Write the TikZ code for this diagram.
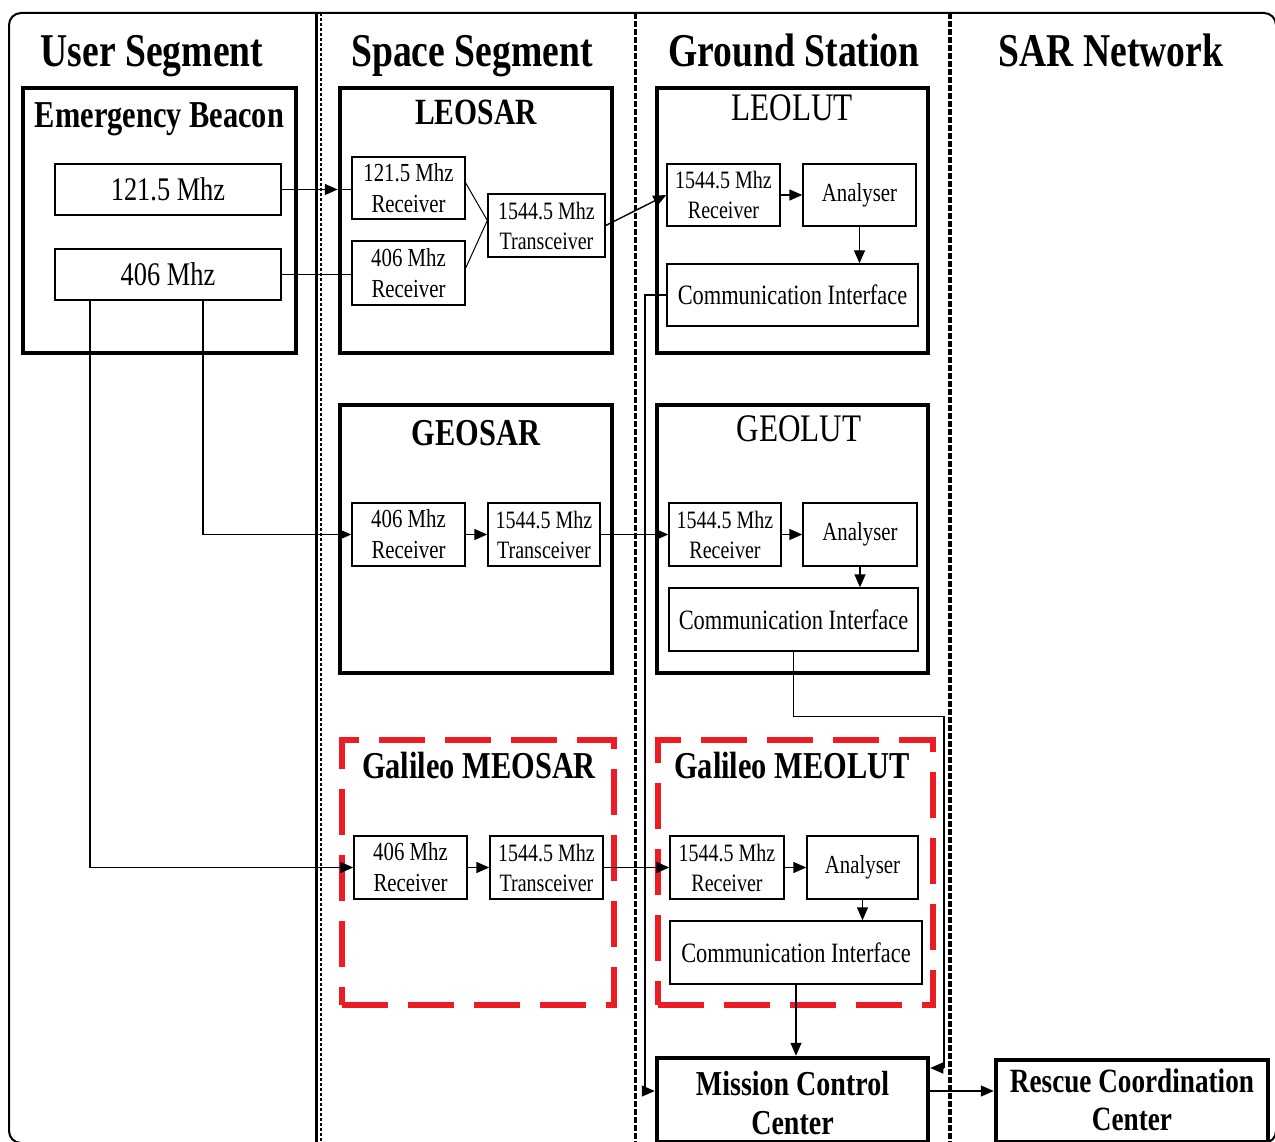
\documentclass[tikz,border=0pt]{standalone}
\usepackage{fontspec}
\newfontfamily\cf{Liberation Serif}[FakeStretch=0.8]
\usetikzlibrary{arrows.meta}
\definecolor{sarred}{RGB}{237,28,36}
\newcommand\myfs[2]{\fontsize{#1}{#2}\selectfont}
\begin{document}
\begin{tikzpicture}[x=1pt,y=-1pt,
  every node/.style={font=\cf},
  heavy/.style={draw,line width=4.5pt,inner sep=0pt},
  redbox/.style={draw=sarred,line width=6pt,dash pattern=on 46pt off 20pt,inner sep=0pt},
  small/.style={draw,line width=1.4pt,inner sep=0pt,align=center},
  conn/.style={line width=1.4pt},
  arr/.style={conn,-{Triangle[length=13pt,width=11pt]}},
  seg/.style={font=\cf\bfseries\myfs{47}{50},anchor=base},
  ttl/.style={font=\cf\myfs{39}{42},anchor=base},
  bttl/.style={font=\cf\bfseries\myfs{38}{42},anchor=base},
  rxt/.style={font=\cf\myfs{26}{31}},
  txt/.style={font=\cf\myfs{25}{30}},
  big/.style={font=\cf\bfseries\myfs{35}{40},align=center}
]
\useasboundingbox (0,0) rectangle (1275,1142);
% frame and dividers
\draw[line width=2pt,rounded corners=12pt] (9,13) rectangle (1276,1143);
\draw[line width=3pt] (316,13) -- (316,1142);
\draw[line width=1.5pt,dash pattern=on 3pt off 2pt] (321,13) -- (321,1142);
\draw[line width=3pt,dash pattern=on 6pt off 2pt] (635,13) -- (635,1142);
\draw[line width=4pt,dash pattern=on 6pt off 2pt] (950,13) -- (950,1142);

% segment titles
\node[seg] (tus) at (152,67) {User Segment};
\node[seg] (tss) at (472,67) {Space Segment};
\node[seg] (tgs) at (794,67) {Ground Station};
\node[seg] (tsn) at (1111,67) {SAR Network};

% big boxes
\node[heavy,minimum width=273pt,minimum height=265pt] (eb) at (159.5,220.5) {};
\node[heavy,minimum width=272pt,minimum height=265pt] (leosar) at (476,220.5) {};
\node[heavy,minimum width=271pt,minimum height=265pt] (leolut) at (792.5,220.5) {};
\node[heavy,minimum width=272pt,minimum height=268pt] (geosar) at (476,539) {};
\node[heavy,minimum width=271pt,minimum height=268pt] (geolut) at (792.5,539) {};
\node[redbox,minimum width=272pt,minimum height=265pt] (meosar) at (478,872.5) {};
\node[redbox,minimum width=275pt,minimum height=265pt] (meolut) at (795.5,872.5) {};
\node[heavy,minimum width=271pt,minimum height=84pt] (mcc) at (792.5,1100) {};
\node[heavy,minimum width=272pt,minimum height=82pt] (rcc) at (1132,1101) {};

% box titles
\node[bttl] (teb) at (159.5,128) {Emergency Beacon};
\node[bttl,font=\cf\bfseries\myfs{37}{42}] (tleosar) at (476,125) {LEOSAR};
\node[ttl] (tleolut) at (792,121) {LEOLUT};
\node[bttl] (tgeosar) at (476,445) {GEOSAR};
\node[ttl] (tgeolut) at (799,441) {GEOLUT};
\node[bttl] (tmeosar) at (479,778) {Galileo MEOSAR};
\node[bttl] (tmeolut) at (792,778) {Galileo MEOLUT};
\node[big] (tmcc) at (792.5,1103) {Mission Control\\[-1pt]Center};
\node[big,font=\cf\bfseries\myfs{34}{39}] (trcc) at (1132,1100) {Rescue Coordination\\[-1pt]Center};

% user segment
\node[small,minimum width=226pt,minimum height=51pt,font=\cf\myfs{33}{36}] (b121) at (168,189.5) {121.5 Mhz};
\node[small,minimum width=226pt,minimum height=51pt,font=\cf\myfs{33}{36}] (b406) at (168,274.5) {406 Mhz};

% LEOSAR
\node[small,rxt,minimum width=113pt,minimum height=62pt] (lrx1) at (408.5,188) {121.5 Mhz\\Receiver};
\node[small,rxt,minimum width=113pt,minimum height=64pt] (lrx2) at (408.5,273) {406 Mhz\\Receiver};
\node[small,txt,minimum width=117pt,minimum height=63pt] (ltx) at (546.5,225.5) {1544.5 Mhz\\Transceiver};

% LEOLUT
\node[small,txt,minimum width=113pt,minimum height=62pt] (lurx) at (723.5,195) {1544.5 Mhz\\Receiver};
\node[small,rxt,minimum width=113pt,minimum height=62pt] (luan) at (859.5,195) {Analyser};
\node[small,font=\cf\myfs{28}{32},minimum width=251pt,minimum height=62pt] (lucom) at (792.5,295) {Communication Interface};

% GEOSAR
\node[small,rxt,minimum width=113pt,minimum height=63pt] (grx) at (408.5,534.5) {406 Mhz\\Receiver};
\node[small,txt,minimum width=112pt,minimum height=63pt] (gtx) at (544,534.5) {1544.5 Mhz\\Transceiver};

% GEOLUT
\node[small,txt,minimum width=112pt,minimum height=63pt] (gurx) at (725,534.5) {1544.5 Mhz\\Receiver};
\node[small,rxt,minimum width=114pt,minimum height=63pt] (guan) at (860,534.5) {Analyser};
\node[small,font=\cf\myfs{28}{32},minimum width=249pt,minimum height=63pt] (gucom) at (793.5,619.5) {Communication Interface};

% MEOSAR
\node[small,rxt,minimum width=113pt,minimum height=63pt] (mrx) at (410.5,867.5) {406 Mhz\\Receiver};
\node[small,txt,minimum width=113pt,minimum height=63pt] (mtx) at (546.5,867.5) {1544.5 Mhz\\Transceiver};

% MEOLUT
\node[small,txt,minimum width=114pt,minimum height=63pt] (murx) at (727,867.5) {1544.5 Mhz\\Receiver};
\node[small,rxt,minimum width=111pt,minimum height=63pt] (muan) at (862.5,867.5) {Analyser};
\node[small,font=\cf\myfs{28}{32},minimum width=252pt,minimum height=63pt] (mucom) at (796,952.5) {Communication Interface};

% connectors: user segment -> space segment
\draw[arr] (b121.east) -- (b121.east -| leosar.west);
\draw[conn] (b121.east -| leosar.west) -- (b121.east -| lrx1.west);
\draw[conn] (b406.east) -- (b406.east -| lrx2.west);
\draw[arr] ([xshift=35pt]b406.south) |- (grx.west);
\draw[arr] ([xshift=-78pt]b406.south) |- (mrx.west);

% LEOSAR internals
\draw[conn,line width=1pt] ([yshift=5pt]lrx1.east) -- ([yshift=5pt]ltx.west);
\draw[conn,line width=1pt] ([yshift=5pt]lrx2.east) -- ([yshift=5pt]ltx.west);
\draw[arr] (ltx.east) -- (lurx.west);
\draw[arr] (lurx) -- (luan);
\draw[arr] (luan.south) -- (luan.south |- lucom.north);

% GEO chain
\draw[arr] (grx) -- (gtx);
\draw[arr] (gtx) -- (gurx);
\draw[arr] (gurx) -- (guan);
\draw[arr] (guan.south) -- (guan.south |- gucom.north);

% MEO chain
\draw[arr] (mrx) -- (mtx);
\draw[arr] (mtx) -- (murx);
\draw[arr] (murx) -- (muan);
\draw[arr] (muan.south) -- (muan.south |- mucom.north);

% to mission control
\coordinate (lx) at (645,0);
\coordinate (rx) at (944,0);
\draw[conn] (lucom.west) -- (lucom.west -| lx) -- ([yshift=9pt]mcc.west -| lx);
\draw[arr] ([yshift=9pt]mcc.west -| lx) -- ([yshift=9pt]mcc.west);
\draw[conn] (gucom.south) -- ++(0,65) -| ([yshift=32pt]mcc.east -| rx);
\draw[arr] ([yshift=32pt]mcc.east -| rx) -- ([yshift=32pt]mcc.east);
\draw[arr] (mucom.south) -- (mucom.south |- mcc.north);
\draw[arr] ([yshift=9pt]mcc.east) -- ([yshift=9pt]mcc.east -| rcc.west);
\end{tikzpicture}
\end{document}
